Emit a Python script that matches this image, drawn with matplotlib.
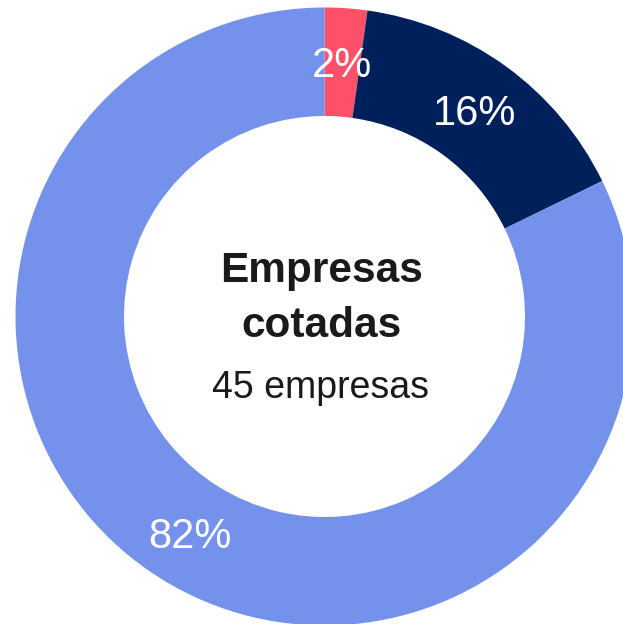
import numpy as np
import matplotlib.pyplot as plt

plt.rcParams['font.family'] = ['Liberation Sans', 'DejaVu Sans']

labels = ["No", "Sí", "Otros"]
counts = [1, 7, 37]          # 45 empresas
pct_labels = ["2%", "16%", "82%"]
colors = ["#FF5069", "#00205C", "#7492EB"]

W, H = 623, 624
cx, cy = 324.5, H - 316.5   # centre in pixel coords (y up)
r_out = 309
ring = 108.5

fig = plt.figure(figsize=(W / 100, H / 100), dpi=100)
ax = fig.add_axes([0, 0, 1, 1])

ax.pie(counts, colors=colors, startangle=90, counterclock=False,
       center=(cx, cy), radius=r_out, frame=True,
       wedgeprops=dict(width=ring, linewidth=0))
ax.set_xlim(0, W)
ax.set_ylim(0, H)
ax.set_aspect('equal')
ax.axis('off')

# percentage labels in the middle of the ring
r_mid = r_out - ring / 2
total = sum(counts)
start = 90.0
for c, lab in zip(counts, pct_labels):
    span = 360.0 * c / total
    mid = np.deg2rad(start - span / 2)
    ax.text(cx + r_mid * np.cos(mid), cy + r_mid * np.sin(mid) - 4, lab,
            color="white", fontsize=30, ha="center", va="center")
    start -= span

ax.text(cx - 3, H - 281.7, "Empresas", fontsize=30.5, fontweight="bold",
        color="#1a1a1a", ha="center", va="baseline")
ax.text(cx - 3, H - 336.7, "cotadas", fontsize=30.5, fontweight="bold",
        color="#1a1a1a", ha="center", va="baseline")
ax.text(cx - 4, H - 398, "45 empresas", fontsize=27,
        color="#1a1a1a", ha="center", va="baseline")

fig.savefig("out.png", dpi=100)
